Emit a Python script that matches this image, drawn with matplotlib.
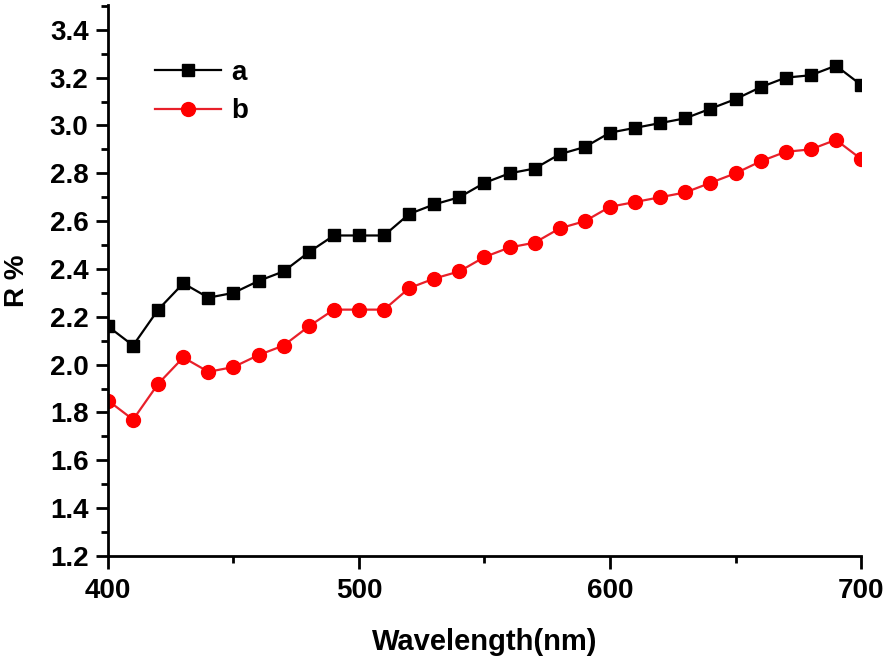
import numpy as np
import matplotlib.pyplot as plt
from matplotlib.ticker import MultipleLocator

plt.rcParams['font.family'] = ['Liberation Sans', 'DejaVu Sans']
plt.rcParams['font.weight'] = 'bold'

wavelength = np.arange(400, 701, 10)
r_a = [2.16, 2.08, 2.23, 2.34, 2.28, 2.30, 2.35, 2.39, 2.47, 2.54, 2.54,
       2.54, 2.63, 2.67, 2.70, 2.76, 2.80, 2.82, 2.88, 2.91, 2.97, 2.99,
       3.01, 3.03, 3.07, 3.11, 3.16, 3.20, 3.21, 3.25, 3.17]
r_b = [1.85, 1.77, 1.92, 2.03, 1.97, 1.99, 2.04, 2.08, 2.16, 2.23, 2.23,
       2.23, 2.32, 2.36, 2.39, 2.45, 2.49, 2.51, 2.57, 2.60, 2.66, 2.68,
       2.70, 2.72, 2.76, 2.80, 2.85, 2.89, 2.90, 2.94, 2.86]

fig = plt.figure(figsize=(8.88, 6.61), dpi=100)
ax = fig.add_axes([0.1216, 0.1589, 0.848, 0.834])

ax.plot(wavelength, r_a, color='black', lw=1.6, marker='s', ms=9, label='a')
ax.plot(wavelength, r_b, color='#e8202a', lw=1.6, marker='o', ms=10,
        mfc='red', mec='red', label='b')

ax.set_xlim(400, 700)
ax.set_ylim(1.2, 3.505)
ax.xaxis.set_major_locator(MultipleLocator(100))
ax.xaxis.set_minor_locator(MultipleLocator(50))
ax.yaxis.set_major_locator(MultipleLocator(0.2))
ax.yaxis.set_minor_locator(MultipleLocator(0.1))
ax.yaxis.set_major_formatter(plt.FormatStrFormatter('%.1f'))

for s in ['top', 'right']:
    ax.spines[s].set_visible(False)
for s in ['left', 'bottom']:
    ax.spines[s].set_linewidth(2)

ax.tick_params(which='major', direction='out', length=9, width=2, labelsize=20)
ax.tick_params(which='minor', direction='out', length=5, width=2)
ax.tick_params(axis='y', pad=5)
ax.tick_params(axis='x', pad=7)

ax.set_xlabel('Wavelength(nm)', fontsize=21, fontweight='bold', labelpad=17)
ax.set_ylabel('R %', fontsize=20, fontweight='bold', labelpad=14)

ax.legend(loc='upper left', bbox_to_anchor=(0.062, 0.90), frameon=False,
          fontsize=20, handlelength=2.4, handletextpad=0.36, labelspacing=0.45,
          borderpad=0, borderaxespad=0)

fig.savefig('out.png', dpi=100)
